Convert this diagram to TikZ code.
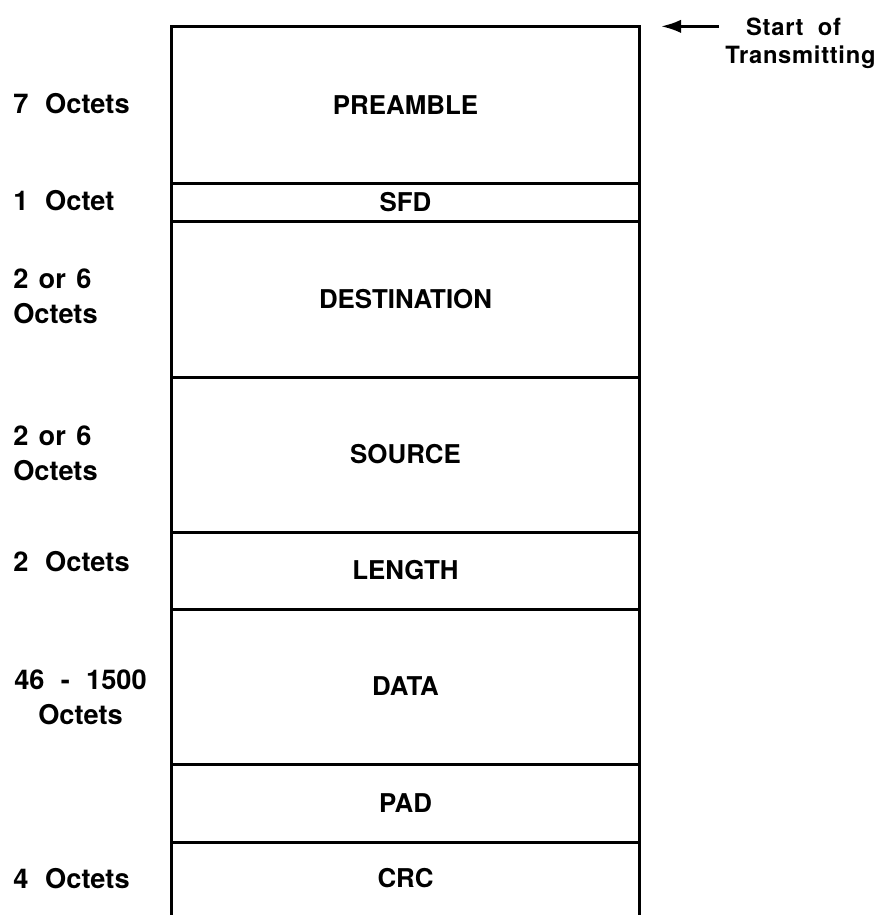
\documentclass[tikz,border=0pt]{standalone}
\usepackage{fontspec}
\setmainfont{TeX Gyre Heros}
\newfontfamily\trackedfont[LetterSpace=3]{TeX Gyre Heros}
\usetikzlibrary{arrows.meta}
\newcommand\wgap{\hspace{0.62em}}
\newcommand\sgap{\hspace{0.38em}}

\begin{document}
\begin{tikzpicture}[x=0.75pt, y=-0.75pt,
  frame/.style={line width=2.2pt, line join=miter},
  fieldbox/.style={rectangle, inner sep=0pt, minimum width=467*0.75pt,
    minimum height=#1*0.75pt, font=\bfseries\fontsize{19.4pt}{26.25pt}\selectfont},
  sizelabel/.style={inner sep=0pt, align=left,
    font=\bfseries\fontsize{20.4pt}{26.25pt}\selectfont},
  notelabel/.style={inner sep=0pt, anchor=base,
    font=\trackedfont\bfseries\fontsize{17.8pt}{21pt}\selectfont},
  startarrow/.style={line width=2pt, -{Latex[length=15pt,width=10pt]}}
]
\useasboundingbox (0,0) rectangle (882,915);

% frame fields, top to bottom
\node[fieldbox=156] (pre) at (405.5,105)   {PREAMBLE};
\node[fieldbox=38]  (sfd) at (405.5,202)   {SFD};
\node[fieldbox=156] (dst) at (405.5,299)   {DESTINATION};
\node[fieldbox=155] (src) at (405.5,454.5) {SOURCE};
\node[fieldbox=77]  (len) at (405.5,570.5) {LENGTH};
\node[fieldbox=155] (dat) at (405.5,686.5) {DATA};
\node[fieldbox=78]  (pad) at (405.5,803)   {PAD};
\node[fieldbox=73]  (crc) at (405.5,878.5) {CRC};

% outline, open at the bottom
\draw[frame] (crc.south west) -- (pre.north west) -- (pre.north east) -- (crc.south east);
\foreach \f in {pre,sfd,dst,src,len,dat,pad}
  \draw[frame] (\f.south west) -- (\f.south east);

% field sizes
\node[sizelabel, anchor=base west] (n7)  at (13,113) {7\wgap Octets};
\node[sizelabel, anchor=base west] (n1)  at (13,210) {1\wgap Octet};
\node[sizelabel, anchor=west]      (n2a) at (13,296) {2\sgap or\sgap 6\\Octets};
\node[sizelabel, anchor=west]      (n2b) at (13,453.5) {2\sgap or\sgap 6\\Octets};
\node[sizelabel, anchor=base west] (n2)  at (13,571) {2\wgap Octets};
\node[sizelabel, align=center]     (n46) at (80.5,697.5) {46\hspace{0.6em}-\hspace{0.6em}1500\\Octets};
\node[sizelabel, anchor=base west] (n4)  at (13,888) {4\wgap Octets};

% start of transmission marker
\coordinate (tip)  at (661,25);
\coordinate (tail) at (719,25);
\node[notelabel] (sof) at (793.5,35) {Start\hspace{0.6em}of};
\node[notelabel] (trm) at (800.5,63) {Transmitting};
\draw[startarrow] (sof.west -| tail) -- (sof.west -| tip);
\end{tikzpicture}
\end{document}
